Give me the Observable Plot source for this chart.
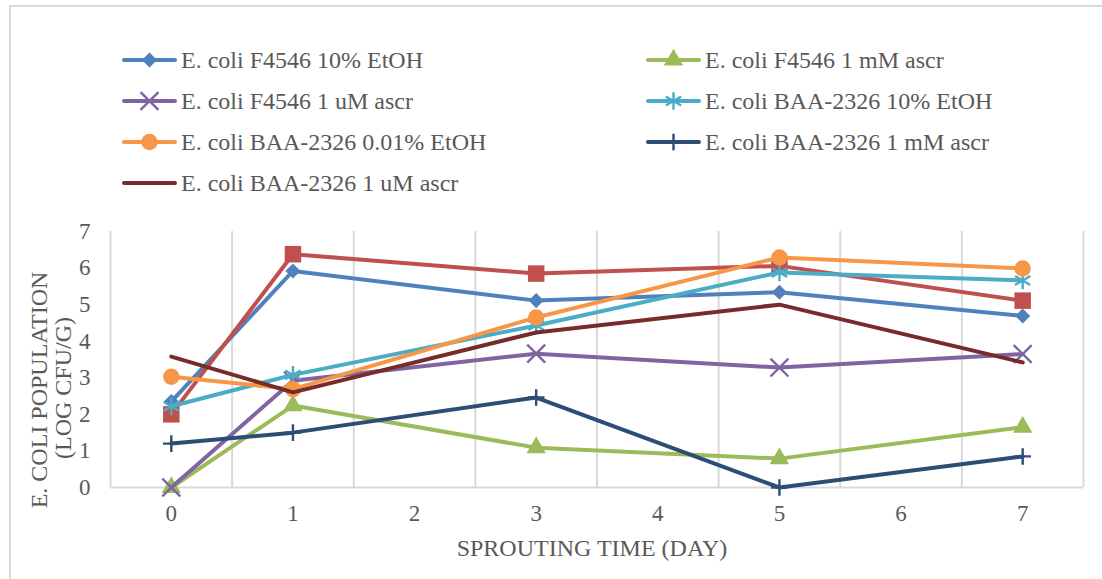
<!DOCTYPE html>
<html><head><meta charset="utf-8">
<script src="https://cdn.jsdelivr.net/npm/d3@7"></script>
<script src="https://cdn.jsdelivr.net/npm/@observablehq/plot@0.6"></script>
<style>
body{margin:0;background:#fff;}
#wrap{position:relative;width:1102px;height:579px;overflow:hidden;font-family:"Liberation Serif","Times New Roman",serif;color:#595959;background:#fff;}
#frame{position:absolute;left:9px;top:5px;width:1300px;height:800px;border:2px solid #d9d9d9;box-sizing:border-box;}
#legend{position:absolute;left:0;top:0;width:1102px;height:200px;}
#chart{position:absolute;left:0;top:200px;}
.item{position:absolute;height:30px;display:flex;align-items:center;font-size:24px;white-space:nowrap;color:#595959;font-family:"Liberation Serif","Times New Roman",serif;}
.item svg{margin-right:4px;}
#chart svg text{font-family:"Liberation Serif","Times New Roman",serif;}
</style></head><body>
<div id="wrap"><div id="frame"></div><div id="legend"></div><div id="chart"></div></div>
<script>
// ---- data ----
const days = [0, 1, 3, 5, 7];
const xTicks = [0, 1, 2, 3, 4, 5, 6, 7];
const yTicks = [0, 1, 2, 3, 4, 5, 6, 7];

const seriesNames = [
  "E. coli F4546 10% EtOH",
  "E. coli F4546 0.01% EtOH",
  "E. coli F4546 1 mM ascr",
  "E. coli F4546 1 uM ascr",
  "E. coli BAA-2326 10% EtOH",
  "E. coli BAA-2326 0.01% EtOH",
  "E. coli BAA-2326 1 mM ascr",
  "E. coli BAA-2326 1 uM ascr"
];
const f4546_10EtOH   = [2.35, 5.92, 5.11, 5.34, 4.69];
const f4546_001EtOH  = [2.0, 6.38, 5.85, 6.06, 5.11];
const f4546_1mM      = [0, 2.24, 1.09, 0.79, 1.65];
const f4546_1uM      = [0, 2.92, 3.66, 3.28, 3.65];
const baa_10EtOH     = [2.22, 3.08, 4.43, 5.88, 5.66];
const baa_001EtOH    = [3.03, 2.69, 4.65, 6.29, 5.99];
const baa_1mM        = [1.2, 1.5, 2.46, 0, 0.85];
const baa_1uM        = [3.58, 2.6, 4.24, 5.0, 3.42];
const seriesValues = [f4546_10EtOH, f4546_001EtOH, f4546_1mM, f4546_1uM, baa_10EtOH, baa_001EtOH, baa_1mM, baa_1uM];
const colors = ["#4F81BD", "#C0504D", "#9BBB59", "#8064A2", "#4BACC6", "#F79646", "#2C4D75", "#772C2A"];
const inLegend = [true, false, true, true, true, true, true, true];

// ---- styling ----
const markers = [
  {symbol: "diamond2", r: 6.8, filled: true},
  {symbol: "square", r: 9.3, filled: true},
  {symbol: "triangle", r: 7.2, filled: true},
  {symbol: "times", r: 8.2, filled: false},
  {symbol: "asterisk", r: 8.4, filled: false},
  {symbol: "circle", r: 8.2, filled: true},
  {symbol: "plus", r: 5.4, filled: false},
  null
];
const lineW = 4;

const rows = seriesNames.flatMap((name, k) => days.map((d, i) => ({name, day: d, value: seriesValues[k][i]})));
const gridX = xTicks.map(t => t - 0.5).concat([xTicks[xTicks.length - 1] + 0.5]);

const marks = [
  Plot.ruleX(gridX, {stroke: "#d9d9d9", strokeWidth: 2}),
  Plot.ruleY([0], {stroke: "#d9d9d9", strokeWidth: 2})
];
seriesNames.forEach((name, k) => {
  const data = rows.filter(r => r.name === name);
  marks.push(Plot.line(data, {x: "day", y: "value", stroke: colors[k], strokeWidth: lineW, strokeLinecap: "round", strokeLinejoin: "round"}));
  const m = markers[k];
  if (m) {
    marks.push(Plot.dot(data, m.filled
      ? {x: "day", y: "value", symbol: () => m.symbol, r: m.r, fill: colors[k], stroke: "none"}
      : {x: "day", y: "value", symbol: () => m.symbol, r: m.r, fill: "none", stroke: colors[k], strokeWidth: 2.4}));
  }
});

const chart = Plot.plot({
  width: 1102,
  height: 379,
  marginLeft: 110,
  marginRight: 19,
  marginTop: 31,
  marginBottom: 92,
  style: {fontFamily: "Liberation Serif, Times New Roman, serif", fontSize: "23px", color: "#595959", background: "transparent", overflow: "visible"},
  symbol: {type: "identity"},
  x: {domain: [-0.5, 7.5], ticks: xTicks, tickSize: 0, tickPadding: 17, label: null, tickFormat: d => String(d)},
  y: {domain: [0, 7], ticks: yTicks, tickSize: 0, tickPadding: 20, label: null, tickFormat: d => String(d)},
  marks
});
document.getElementById("chart").appendChild(chart);

// axis titles
const svg = d3.select(chart);
const tcol = "#595959";
svg.append("text").attr("x", 592).attr("y", 356).attr("text-anchor", "middle")
  .attr("fill", tcol).style("font-size", "24px").text("SPROUTING TIME (DAY)");
svg.append("text").attr("transform", "translate(47,190) rotate(-90)").attr("text-anchor", "middle")
  .attr("fill", tcol).style("font-size", "24px").text("E. COLI POPULATION");
svg.append("text").attr("transform", "translate(71,188) rotate(-90)").attr("text-anchor", "middle")
  .attr("fill", tcol).style("font-size", "24px").text("(LOG CFU/G)");

// legend (HTML)
const legend = document.getElementById("legend");
const colX = [122, 646];
const rowY = [60, 101, 142, 183];
const legendIdx = seriesNames.map((_, k) => k).filter(k => inLegend[k]);
const symMap = {diamond2: d3.symbolDiamond2, square: d3.symbolSquare, triangle: d3.symbolTriangle, times: d3.symbolTimes, asterisk: d3.symbolAsterisk, circle: d3.symbolCircle, plus: d3.symbolPlus};
legendIdx.forEach((k, j) => {
  const col = j % 2, row = Math.floor(j / 2);
  const item = document.createElement("div");
  item.className = "item";
  item.style.left = colX[col] + "px";
  item.style.top = (rowY[row] - 15) + "px";
  const sw = d3.create("svg").attr("width", 55).attr("height", 30);
  sw.append("line").attr("x1", 2).attr("x2", 53).attr("y1", 15).attr("y2", 15)
    .attr("stroke", colors[k]).attr("stroke-width", lineW).attr("stroke-linecap", "round");
  const m = markers[k];
  if (m) {
    const p = d3.symbol(symMap[m.symbol], m.r * m.r * Math.PI)();
    const path = sw.append("path").attr("d", p).attr("transform", "translate(27.5,15)");
    if (m.filled) path.attr("fill", colors[k]); else path.attr("fill", "none").attr("stroke", colors[k]).attr("stroke-width", 2.4);
  }
  item.appendChild(sw.node());
  const span = document.createElement("span");
  span.textContent = seriesNames[k];
  item.appendChild(span);
  legend.appendChild(item);
});
</script>
</body></html>
